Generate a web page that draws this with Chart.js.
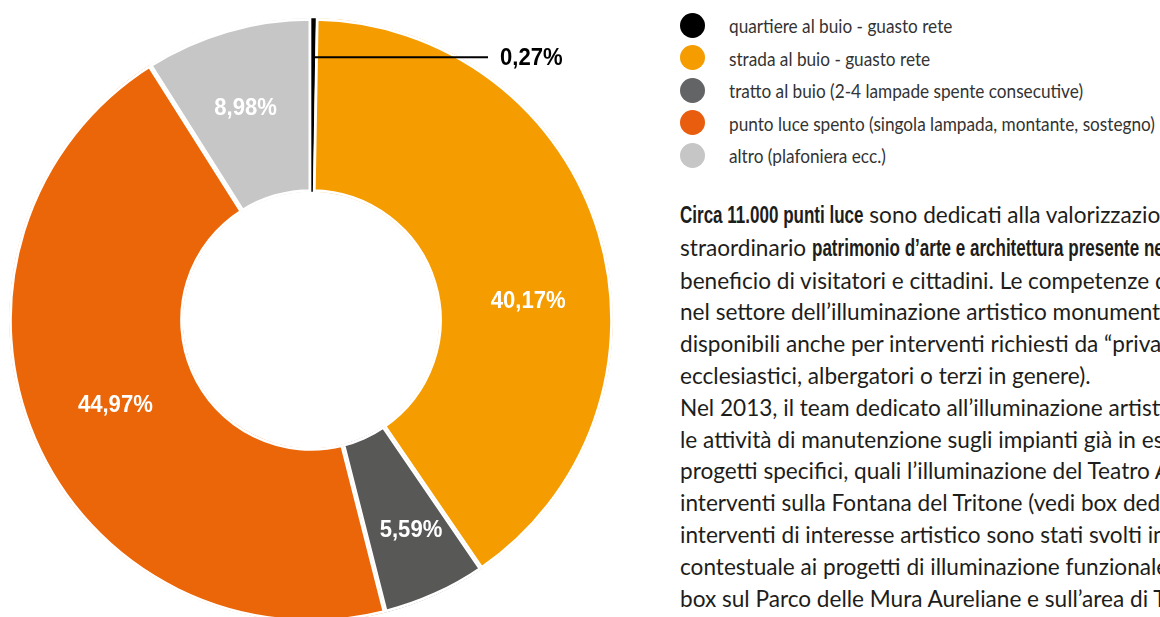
<!DOCTYPE html>
<html>
<head>
<meta charset="utf-8">
<script src="https://cdn.jsdelivr.net/npm/chart.js@4.4.0/dist/chart.umd.min.js"></script>
<style>
  html, body { margin: 0; padding: 0; width: 1160px; height: 617px; overflow: hidden; background: #fff; }
  #chartBox { position: absolute; left: 0; top: 0; width: 640px; height: 640px; }
  #legend { position: absolute; left: 680px; top: 9px; margin: 0; padding: 0; list-style: none;
            font-family: Lato, "Open Sans", sans-serif; font-size: 20px; color: #333333; }
  #legend li { height: 32.5px; display: flex; align-items: center; white-space: nowrap; }
  #legend .dot { width: 25px; height: 25px; border-radius: 50%; margin-right: 24px; flex: none; }
  #legend .name { display: inline-block; transform: scaleX(0.86); transform-origin: 0 50%; }
  #text { position: absolute; left: 680px; top: 199px; font-family: Lato, "Open Sans", sans-serif;
          font-size: 22.6px; line-height: 31.8px; color: #1d1d1b; white-space: nowrap; }
  #text b { display: inline-block; font-family: "Liberation Sans", Arial, sans-serif; font-weight: 700;
            font-size: 23px; transform: scaleX(0.74); transform-origin: 0 50%; }
</style>
</head>
<body>
<div id="chartBox"><canvas id="donut"></canvas></div>
<ul id="legend"></ul>
<div id="text">
  <b>Circa 11.000 punti luce</b> sono dedicati alla valorizzazione dello<br>
  straordinario <b>patrimonio d’arte e architettura presente nella città</b>, a<br>
  beneficio di visitatori e cittadini. Le competenze di Acea<br>
  nel settore dell’illuminazione artistico monumentale sono<br>
  disponibili anche per interventi richiesti da “privati” (enti<br>
  ecclesiastici, albergatori o terzi in genere).<br>
  Nel 2013, il team dedicato all’illuminazione artistica ha svolto<br>
  le attività di manutenzione sugli impianti già in esercizio e<br>
  progetti specifici, quali l’illuminazione del Teatro Argentina e gli<br>
  interventi sulla Fontana del Tritone (vedi box dedicato). Altri<br>
  interventi di interesse artistico sono stati svolti in maniera<br>
  contestuale ai progetti di illuminazione funzionale (vedi i<br>
  box sul Parco delle Mura Aureliane e sull’area di Tor
</div>
<script>
// ── Data ───────────────────────────────────────────────────────────────
var categories = [
    "quartiere al buio - guasto rete",
    "strada al buio - guasto rete",
    "tratto al buio (2-4 lampade spente consecutive)",
    "punto luce spento (singola lampada, montante, sostegno)",
    "altro (plafoniera ecc.)"
];
var shares = [0.27, 40.17, 5.59, 44.97, 8.98];
var shareLabels = ["0,27%", "40,17%", "5,59%", "44,97%", "8,98%"];

// ── Styles ─────────────────────────────────────────────────────────────
var sliceColors = ["#000000", "#f49c00", "#585857", "#eb6608", "#c6c6c6"];
var legendColors = ["#000000", "#f49c00", "#636466", "#e95d0f", "#c6c6c6"];
var gapWidths = [0, 2.5, 2.5, 2.5, 2.5];
// where each label sits inside its slice (fraction of the sweep, radial nudge)
var labelAnchor = [0.5, 0.58, 0.44, 0.5, 0.47];
var labelLift = [0, 3, 17, -2, 7];
var labelFont = "bold 24px 'Liberation Sans', Arial, sans-serif";
var labelSquash = 0.92;
var boldSquash = 0.74;

// ── Legend ─────────────────────────────────────────────────────────────
var legend = document.getElementById("legend");
categories.forEach(function (name, i) {
    var li = document.createElement("li");
    var dot = document.createElement("span");
    dot.className = "dot";
    dot.style.background = legendColors[i];
    var txt = document.createElement("span");
    txt.className = "name";
    txt.textContent = name;
    li.appendChild(dot);
    li.appendChild(txt);
    legend.appendChild(li);
});

// condensed bold runs: pull the following text back after scaling
document.querySelectorAll("#text b").forEach(function (b) {
    var w = b.getBoundingClientRect().width / boldSquash;
    b.style.marginRight = (-w * (1 - boldSquash)) + "px";
});

// ── Labels on slices ───────────────────────────────────────────────────
function squashedText(ctx, str, x, y, align) {
    ctx.save();
    ctx.translate(x, y);
    ctx.scale(labelSquash, 1);
    ctx.textAlign = align;
    ctx.fillText(str, 0, 0);
    ctx.restore();
}

var sliceLabels = {
    id: "sliceLabels",
    afterDatasetsDraw: function (chart) {
        var ctx = chart.ctx;
        var arcs = chart.getDatasetMeta(0).data;
        ctx.save();
        ctx.font = labelFont;
        ctx.textBaseline = "middle";
        arcs.forEach(function (arc, i) {
            var p = arc.getProps(["x", "y", "startAngle", "endAngle", "innerRadius", "outerRadius"], true);
            var a = p.startAngle + (p.endAngle - p.startAngle) * labelAnchor[i];
            if (i === 0) {
                // tiny slice: leader line out to the right
                var r0 = p.outerRadius * 0.87;
                var lx = p.x + r0 * Math.cos(a);
                var ly = p.y + r0 * Math.sin(a);
                var ex = p.x + 177;
                ctx.strokeStyle = "#000";
                ctx.lineWidth = 2;
                ctx.beginPath();
                ctx.moveTo(lx, ly);
                ctx.lineTo(ex, ly);
                ctx.stroke();
                ctx.fillStyle = "#000";
                squashedText(ctx, shareLabels[i], ex + 12, ly + 1, "left");
                return;
            }
            var r = (p.innerRadius + p.outerRadius) / 2 + labelLift[i];
            ctx.fillStyle = "#ffffff";
            squashedText(ctx, shareLabels[i], p.x + r * Math.cos(a), p.y + r * Math.sin(a) + 1, "center");
        });
        ctx.restore();
    }
};

// ── Chart ──────────────────────────────────────────────────────────────
new Chart(document.getElementById("donut"), {
    type: "doughnut",
    data: {
        labels: categories,
        datasets: [{
            data: shares,
            backgroundColor: sliceColors,
            borderColor: "#ffffff",
            borderWidth: gapWidths,
            borderAlign: "inner",
            hoverOffset: 0
        }]
    },
    options: {
        responsive: true,
        maintainAspectRatio: false,
        animation: false,
        radius: 302,
        cutout: 128,
        layout: { padding: { left: 9, top: 18, right: 27, bottom: 18 } },
        plugins: {
            legend: { display: false },
            tooltip: { enabled: false }
        }
    },
    plugins: [sliceLabels]
});
</script>
</body>
</html>
